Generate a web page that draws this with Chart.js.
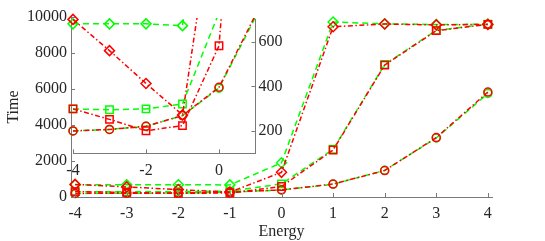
<!DOCTYPE html>
<html>
<head>
<meta charset="utf-8">
<script src="https://cdn.jsdelivr.net/npm/chart.js@4/dist/chart.umd.min.js"></script>
<style>
html, body { margin: 0; padding: 0; background: #fff; }
#wrap { position: relative; width: 545px; height: 241px; }
#wrap canvas { position: absolute; left: 0; top: 0; }
</style>
</head>
<body>
<div id="wrap">
    <canvas id="main" width="545" height="241"></canvas>
    <canvas id="inset" width="545" height="241"></canvas>
</div>
<script>
// values
var energy = [-4, -3, -2, -1, 0, 1, 2, 3, 4];

var greenCircle  = [200, 207, 221, 269, 392, 710, 1480, 3280, 5750];
var redCircle    = [200, 207, 221, 269, 396, 720, 1470, 3300, 5830];
var greenSquare  = [299, 295, 299, 321, 730, 2650, 7360, 9260, 9600];
var redSquare    = [299, 252, 201, 224, 582, 2610, 7330, 9240, 9590];
var greenDiamond = [680, 680, 680, 672, 1900, 9720, 9620, 9580, 9600];
var redDiamond   = [700, 560, 413, 272, 1370, 9460, 9610, 9560, 9590];

var mainXTicks = [-4, -3, -2, -1, 0, 1, 2, 3, 4];
var mainYTicks = [0, 2000, 4000, 6000, 8000, 10000];
var insetXTicks = [-4, -2, 0];
var insetYTicks = [200, 400, 600];

var GREEN = '#00ff00';
var RED = '#ff0000';
var AXIS = '#7a7a7a';
var TEXT = '#262626';
var DASH = [6, 4];
var DASHDOT = [5, 2.5, 1.5, 2.5];

Chart.defaults.font.family = '"Liberation Serif", "DejaVu Serif", serif';
Chart.defaults.font.size = 16;
Chart.defaults.color = TEXT;

// MATLAB style ticks, pointing into the plot
var innerTicks = {
    id: 'innerTicks',
    afterDraw: function (chart) {
        var ctx = chart.ctx, a = chart.chartArea;
        var xs = chart.scales.x, ys = chart.scales.y;
        ctx.save();
        ctx.strokeStyle = AXIS;
        ctx.lineWidth = 1;
        ctx.beginPath();
        xs.ticks.forEach(function (t) {
            var p = Math.round(xs.getPixelForValue(t.value)) + 0.5;
            ctx.moveTo(p, a.bottom);
            ctx.lineTo(p, a.bottom - 4);
        });
        ys.ticks.forEach(function (t) {
            var p = Math.round(ys.getPixelForValue(t.value)) + 0.5;
            if (ys.position == 'right') {
                ctx.moveTo(a.right, p);
                ctx.lineTo(a.right - 4, p);
            } else {
                ctx.moveTo(a.left, p);
                ctx.lineTo(a.left + 4, p);
            }
        });
        ctx.stroke();
        ctx.restore();
    }
};

function plain(v) { return String(v); }

function points(values) {
    return energy.map(function (x, i) { return { x: x, y: values[i] }; });
}

function series(values, color, dash, style, radius) {
    return {
        data: points(values),
        borderColor: color,
        borderDash: dash,
        borderWidth: 1.5,
        pointStyle: style,
        pointRadius: radius,
        pointBorderColor: color,
        pointBackgroundColor: 'rgba(0,0,0,0)',
        pointBorderWidth: 1.5,
        pointHoverRadius: radius,
        fill: false,
        tension: 0
    };
}

// red first so it is drawn on top of green
var seriesList = [
    [redDiamond, RED, DASHDOT, 'rectRot', 5],
    [redSquare, RED, DASHDOT, 'rect', 5.2],
    [redCircle, RED, DASHDOT, 'circle', 4],
    [greenDiamond, GREEN, DASH, 'rectRot', 5],
    [greenSquare, GREEN, DASH, 'rect', 5.2],
    [greenCircle, GREEN, DASH, 'circle', 4]
];

var mainSets = seriesList.map(function (s) {
    var d = series(s[0], s[1], s[2], s[3], s[4]);
    d.clip = false;
    return d;
});

new Chart(document.getElementById('main'), {
    type: 'line',
    data: { datasets: mainSets },
    options: {
        responsive: false,
        animation: false,
        devicePixelRatio: 1,
        layout: { padding: { left: 0, right: 53, top: 17, bottom: 0 } },
        plugins: { legend: { display: false }, tooltip: { enabled: false } },
        scales: {
            x: {
                type: 'linear', min: -4.08, max: 4.08,
                afterBuildTicks: function (s) { s.ticks = mainXTicks.map(function (v) { return { value: v }; }); },
                afterFit: function (s) { s.height = 44; },
                grid: { display: false, drawTicks: false },
                border: { display: true, color: AXIS, width: 1 },
                ticks: { padding: 7, maxRotation: 0, autoSkip: false, callback: plain },
                title: { display: true, text: 'Energy', font: { size: 16, lineHeight: 1 }, padding: { top: 0, bottom: 1 } }
            },
            y: {
                type: 'linear', min: 0, max: 10000,
                afterBuildTicks: function (s) { s.ticks = mainYTicks.map(function (v) { return { value: v }; }); },
                afterFit: function (s) { s.width = 71; },
                grid: { display: false, drawTicks: false },
                border: { display: true, color: AXIS, width: 1 },
                ticks: { padding: 4, autoSkip: false, callback: plain },
                title: { display: true, text: 'Time', font: { size: 16, lineHeight: 1 }, padding: { top: 6, bottom: 0 } }
            }
        }
    },
    plugins: [innerTicks]
});

// inset: lines are clipped to the box, markers drawn whole
var insetSets = [];
seriesList.forEach(function (s) {
    var m = series(s[0], s[1], s[2], s[3], s[4]);
    m.showLine = false;
    m.clip = false;
    var r = s[4];
    m.pointRadius = function (c) {
        var v = c.raw;
        return (v && (v.x > 1 || v.y > 700)) ? 0 : r;
    };
    var l = series(s[0], s[1], s[2], s[3], 0);
    l.clip = { left: 0, top: 1.5, right: 0, bottom: 0 };
    insetSets.push(m, l);
});

new Chart(document.getElementById('inset'), {
    type: 'line',
    data: { datasets: insetSets },
    options: {
        responsive: false,
        animation: false,
        devicePixelRatio: 1,
        layout: { padding: { left: 73, right: 249.5, top: 19.4, bottom: 57.7 } },
        plugins: { legend: { display: false }, tooltip: { enabled: false } },
        scales: {
            x: {
                type: 'linear', min: -4, max: 1,
                afterBuildTicks: function (s) { s.ticks = insetXTicks.map(function (v) { return { value: v }; }); },
                afterFit: function (s) { s.height = 30; },
                grid: { display: false, drawTicks: false },
                border: { display: true, color: AXIS, width: 1 },
                ticks: { padding: 8, maxRotation: 0, autoSkip: false, callback: plain }
            },
            y: {
                type: 'linear', position: 'right', min: 100, max: 700,
                afterBuildTicks: function (s) { s.ticks = insetYTicks.map(function (v) { return { value: v }; }); },
                afterFit: function (s) { s.width = 40; },
                grid: { display: false, drawTicks: false },
                border: { display: true, color: AXIS, width: 1 },
                ticks: { padding: 3, autoSkip: false, callback: plain }
            }
        }
    },
    plugins: [innerTicks]
});
</script>
</body>
</html>
